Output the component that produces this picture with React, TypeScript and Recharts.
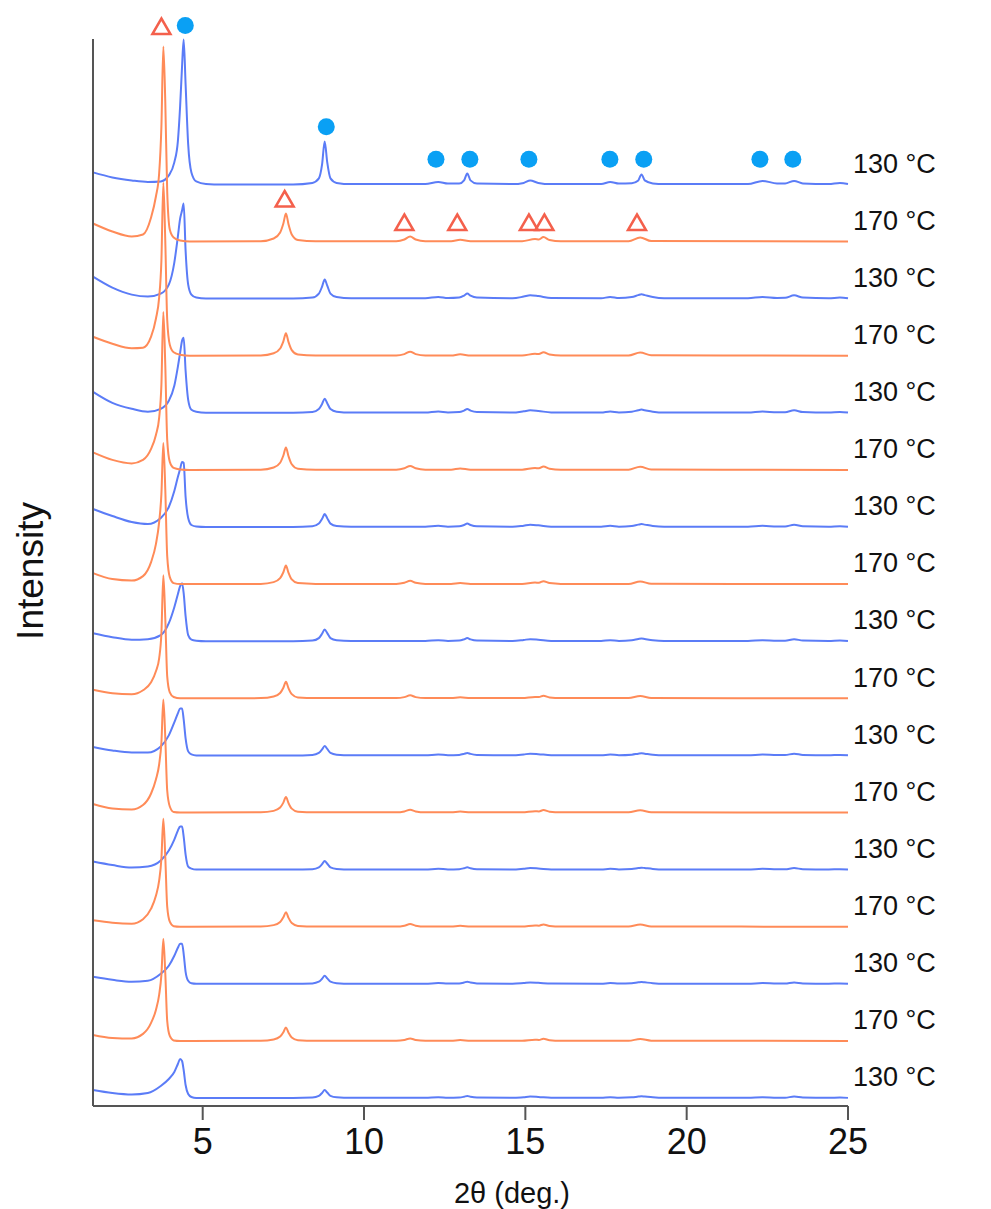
import React from 'react';
import { LineChart, Line, XAxis, YAxis, ReferenceDot } from 'recharts';

// Stacked XRD patterns, 17 scans alternating 130 °C / 170 °C (top to bottom)
const N_TRACES = 17;
const STEP = 57.1; // vertical offset between neighbouring scans (a.u.)

const BLUE = '#5b7cf7';
const ORANGE = '#ff8b58';
const CIRCLE = '#0aa0f4';
const TRIANGLE = '#f4604c';
const AXIS = '#555555';
const FONT = 'Helvetica, Arial, "Liberation Sans", sans-serif';

// 130 °C scans: low-angle region around the main reflection
const BLUE_MAIN_X = [1.6, 2.2, 2.8, 3.3, 3.7, 3.95, 4.12, 4.23, 4.3, 4.36, 4.41, 4.47, 4.55, 4.65, 4.8, 5.1];
const blueMain = [
  [12, 7, 4, 2.5, 3, 9, 22, 43, 78, 118, 145, 100, 40, 12, 3, 0.5],
  [22, 11, 4, 2, 5, 14, 36, 62, 80, 88, 95, 48, 14, 4, 1, 0],
  [21, 10, 4, 1, 4, 12, 27, 46, 60, 72, 75, 42, 13, 3, 1, 0],
  [18, 11, 5, 3, 9, 20, 36, 50, 58, 65, 64, 30, 9, 2, 0.5, 0],
  [8, 4, 1.5, 2, 6, 18, 34, 47, 55, 58, 48, 25, 6, 1.5, 0.5, 0],
  [8.5, 5, 3, 3, 9, 20, 33, 42, 47, 47, 36, 17, 4, 1, 0, 0],
  [8, 4.5, 2, 3, 9, 19, 30, 39, 43, 43, 33, 15, 3, 1, 0, 0],
  [7, 4, 2, 3, 10, 18, 28, 36, 40, 40, 30, 12, 3, 0.5, 0, 0],
  [8, 5, 3.5, 5, 12, 19, 26, 34, 39, 37, 28, 13, 4, 1, 0, 0],
];

// 130 °C scans: higher-angle reflections
const BLUE_TAIL_X = [5.6, 7.8, 8.4, 8.6, 8.7, 8.78, 8.86, 8.96, 9.15, 9.6, 11.9, 12.3, 12.6, 12.95, 13.1, 13.2, 13.3, 13.5, 14.6, 14.95, 15.15, 15.4, 15.8, 17.35, 17.63, 17.9, 18.3, 18.5, 18.6, 18.7, 18.95, 19.3, 21.9, 22.35, 22.8, 23.05, 23.33, 23.6, 24.4, 24.75, 25.0];
const blueTailFirst = [0, 0, 1.5, 6, 20, 43, 22, 6, 1.5, 0.3, 0.3, 2.5, 0.8, 0.8, 4, 11, 4, 0.8, 0.3, 1.5, 4, 1.5, 0.3, 0.3, 2.5, 0.8, 1.2, 4, 10, 4, 1, 0.3, 0.3, 3.5, 1, 1, 3.5, 1, 0.3, 1.5, 0.5];
const blueTailLater = [0, 0, 1, 5, 12, 19, 13, 5, 1.5, 0.3, 0.3, 1.7, 0.5, 1, 3, 5, 3, 1, 0.3, 2, 3.3, 2.5, 0.5, 0.3, 1.7, 0.5, 1.5, 3.5, 4.3, 3.5, 1.5, 0.3, 0.3, 1.7, 0.7, 0.8, 3.3, 1, 0.3, 1, 0.3];
const blueTailScale = [1, 1, 0.74, 0.68, 0.62, 0.5, 0.45, 0.42, 0.42];

// 170 °C scans: low-angle region around the main reflection
const ORANGE_MAIN_X = [1.6, 2.2, 2.8, 3.15, 3.4, 3.55, 3.65, 3.72, 3.78, 3.84, 3.9, 3.98, 4.1, 4.3];
const orangeMain = [
  [18, 10, 5, 7, 24, 45, 68, 115, 195, 140, 50, 12, 4, 1],
  [19, 12, 7.5, 8, 19, 37, 58, 95, 173, 115, 36, 11, 3.5, 1],
  [17.5, 10, 6.5, 10, 21, 35, 52, 85, 158, 105, 30, 8, 2, 0.5],
  [11, 5, 3.5, 8, 22, 40, 62, 90, 141, 95, 28, 7, 1, 0],
  [8.5, 5, 4, 8, 16, 27, 40, 65, 123, 80, 22, 6, 1.3, 0],
  [8.5, 4, 3, 7.5, 19, 33, 48, 70, 113, 75, 22, 6, 0.5, 0],
  [6.5, 4, 3, 7.5, 18, 31, 46, 68, 108, 70, 20, 5, 0.5, 0],
  [6, 3, 2.5, 7, 18, 31, 46, 66, 102, 68, 20, 5, 0.5, 0],
];

// 170 °C scans: higher-angle reflections
const ORANGE_TAIL_X = [4.6, 6.8, 7.2, 7.4, 7.5, 7.58, 7.66, 7.76, 7.95, 8.5, 11.0, 11.25, 11.43, 11.6, 11.9, 12.7, 12.98, 13.3, 14.9, 15.3, 15.42, 15.56, 15.75, 16.1, 18.2, 18.56, 18.9, 25.0];
const orangeTail = [0, 0.3, 3, 9, 18, 28, 17, 7, 1.5, 0.3, 0.3, 2, 5, 2, 0.3, 0.3, 1.7, 0.3, 0.3, 2.4, 2, 4.4, 1.5, 0.3, 0.3, 4, 0.5, 0];
const orangeTailScale = [1, 0.8, 0.8, 0.66, 0.59, 0.55, 0.52, 0.48];

const LABEL_130 = '130 °C';
const LABEL_170 = '170 °C';

// phase markers (2θ, intensity)
const circleX = [4.46, 8.83, 12.23, 13.28, 15.11, 17.62, 18.67, 22.27, 23.29];
const circleY = [1072.5, 971.3, 938.7, 938.7, 938.7, 938.7, 938.7, 938.7, 938.7];
const triangleX = [3.72, 7.54, 11.25, 12.89, 15.11, 15.59, 18.46];
const triangleY = [1071.5, 899, 875.5, 875.5, 875.5, 875.5, 875.5];

const X_TICKS = [5, 10, 15, 20, 25];

type Pt = { x: number; y: number };

const offsetOf = (t: number) => (N_TRACES - 1 - t) * STEP;

const blueSeries: Pt[][] = blueMain.map((main, b) => {
  const off = offsetOf(b * 2);
  const tail = b === 0 ? blueTailFirst : blueTailLater;
  return [
    ...BLUE_MAIN_X.map((x, i) => ({ x, y: off + main[i] })),
    ...BLUE_TAIL_X.map((x, i) => ({ x, y: off + tail[i] * blueTailScale[b] })),
  ];
});

const orangeSeries: Pt[][] = orangeMain.map((main, o) => {
  const off = offsetOf(o * 2 + 1);
  return [
    ...ORANGE_MAIN_X.map((x, i) => ({ x, y: off + main[i] })),
    ...ORANGE_TAIL_X.map((x, i) => ({ x, y: off + orangeTail[i] * orangeTailScale[o] })),
  ];
});

// y ticks sit on the 2nd, 6th, 10th and 14th scans
const yTicks = [1, 5, 9, 13].map(offsetOf);

const XTick = (props: any) => {
  const { x, y, payload } = props;
  return (
    <text x={x} y={y + 32} textAnchor="middle" fontSize={36} fontFamily={FONT} fill="#111">
      {payload.value}
    </text>
  );
};

const circleShape = (p: any) => <circle cx={p.cx} cy={p.cy} r={8.5} fill={CIRCLE} />;

const triangleShape = (p: any) => (
  <path
    d={`M${p.cx},${p.cy - 8} L${p.cx + 9},${p.cy + 7.5} L${p.cx - 9},${p.cy + 7.5} Z`}
    fill="none"
    stroke={TRIANGLE}
    strokeWidth={2.5}
    strokeLinejoin="miter"
  />
);

const tempLabel = (text: string) => (p: any) => (
  <text x={p.cx + 5} y={p.cy} dy="0.36em" fontSize={27} fontFamily={FONT} fill="#111">
    {text}
  </text>
);

export default function App() {
  return (
    <div style={{ width: 983, height: 1201 }}>
      <LineChart width={983} height={1201} margin={{ top: 31, right: 143, left: 0, bottom: 43 }}>
        <XAxis
          type="number"
          dataKey="x"
          domain={[1.6, 25]}
          ticks={X_TICKS}
          tickSize={14}
          height={60}
          axisLine={{ stroke: AXIS, strokeWidth: 2 }}
          tickLine={{ stroke: AXIS, strokeWidth: 2 }}
          tick={<XTick />}
          label={() => (
            <text x={504} y={1195} textAnchor="middle" fontSize={29} fontFamily={FONT} fill="#111">
              2θ (deg.)
            </text>
          )}
        />
        <YAxis
          type="number"
          domain={[-8, 1059]}
          ticks={yTicks}
          width={85}
          tickSize={16}
          tick={false}
          axisLine={{ stroke: AXIS, strokeWidth: 2 }}
          tickLine={{ stroke: AXIS, strokeWidth: 2 }}
          label={() => (
            <text
              x={22}
              y={563}
              transform="rotate(-90 22 563)"
              textAnchor="middle"
              dominantBaseline="central"
              fontSize={37}
              fontFamily={FONT}
              fill="#111"
            >
              Intensity
            </text>
          )}
        />
        {blueSeries.map((pts, b) => (
          <Line
            key={`b${b}`}
            data={pts}
            dataKey="y"
            type="monotone"
            stroke={BLUE}
            strokeWidth={2}
            dot={false}
            activeDot={false}
            isAnimationActive={false}
          />
        ))}
        {orangeSeries.map((pts, o) => (
          <Line
            key={`o${o}`}
            data={pts}
            dataKey="y"
            type="monotone"
            stroke={ORANGE}
            strokeWidth={2}
            dot={false}
            activeDot={false}
            isAnimationActive={false}
          />
        ))}
        {Array.from({ length: N_TRACES }, (_, t) => (
          <ReferenceDot
            key={`lab${t}`}
            x={25}
            y={offsetOf(t) + 21.5}
            ifOverflow="visible"
            shape={tempLabel(t % 2 === 0 ? LABEL_130 : LABEL_170)}
          />
        ))}
        {circleX.map((x, i) => (
          <ReferenceDot key={`c${i}`} x={x} y={circleY[i]} ifOverflow="visible" shape={circleShape} />
        ))}
        {triangleX.map((x, i) => (
          <ReferenceDot key={`t${i}`} x={x} y={triangleY[i]} ifOverflow="visible" shape={triangleShape} />
        ))}
      </LineChart>
    </div>
  );
}
